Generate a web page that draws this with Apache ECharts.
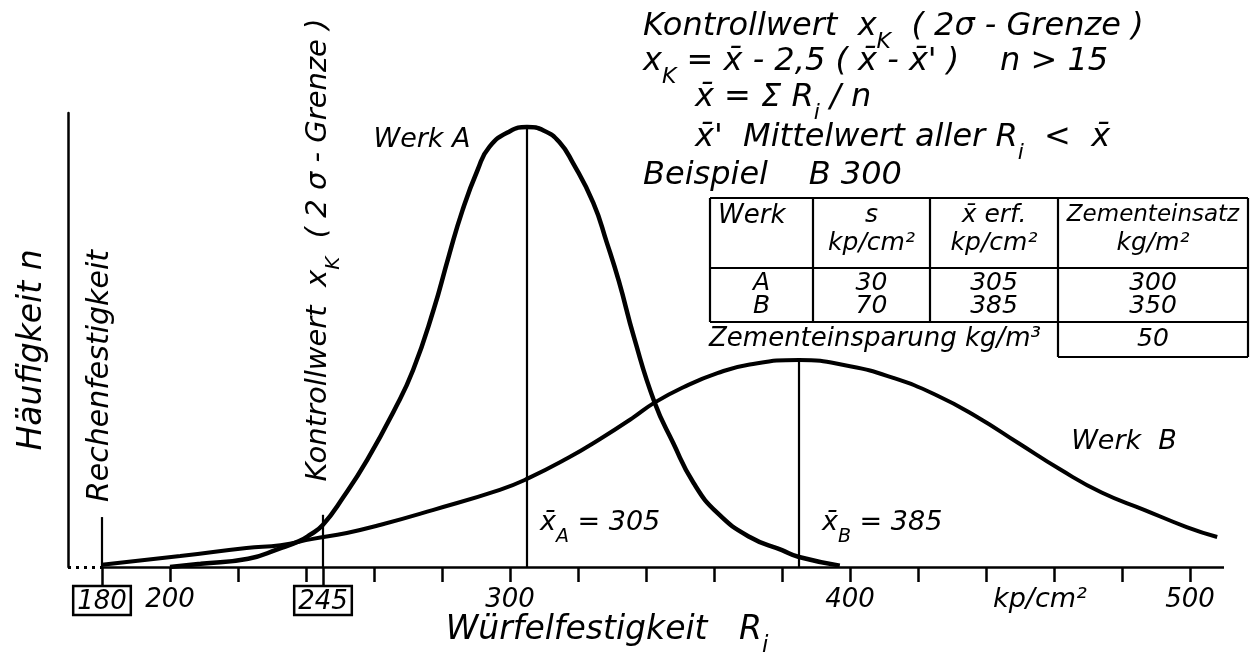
<!DOCTYPE html>
<html><head><meta charset="utf-8">
<script src="https://cdn.jsdelivr.net/npm/echarts@6/dist/echarts.min.js"></script>
<style>html,body{margin:0;padding:0;background:#fff}#c{width:1257px;height:657px}</style>
</head><body><div id="c"></div>
<script>
// ---- data ----
const werkA_R = [200, 209, 223, 232, 238, 241, 245, 251, 258, 266, 271.5, 277.5, 282, 286, 290.5, 294, 300, 305, 310, 314.5, 318.5, 324.5, 328.5, 332, 336.5, 342.5, 348, 354, 361, 370.5, 380, 385, 397];
const werkA_n = [0, 0.7, 1.8, 4.0, 5.7, 7.0, 9.3, 15.4, 23.6, 34.6, 43.4, 56.6, 68.5, 78.5, 87.5, 92.6, 96.0, 96.9, 96.1, 93.6, 89.0, 80.2, 71.4, 63.0, 50.5, 36.3, 27.3, 18.5, 11.9, 6.6, 3.7, 2.2, 0.3];
const werkB_R = [180, 203, 222.5, 232.5, 242, 252, 262, 277.5, 297, 305, 317, 326.5, 336, 342.5, 351, 361, 370.5, 385, 400, 412.5, 425, 437.5, 449.5, 462, 474, 486.5, 499, 508];
const werkB_n = [0.5, 2.4, 4.2, 4.8, 6.2, 7.5, 9.3, 12.6, 17.0, 19.4, 24.0, 28.2, 32.8, 36.2, 39.6, 42.7, 44.6, 45.6, 44.2, 41.7, 38.0, 33.0, 27.3, 21.4, 16.4, 12.6, 8.8, 6.6];
const meanA = 305, meanA_n = 96.9;
const meanB = 385, meanB_n = 45.6;
const rechenfestigkeit = 180, rechen_n = 11;
const kontrollwert = 245, kontroll_n = 11.5;
const xMin = 170, xMax = 510;
const minorTicks = [200, 220, 240, 260, 280, 300, 320, 340, 360, 380, 400, 420, 440, 460, 480, 500];
const tickLabels = [200, 300, 400, 500];
const boxedLabels = [180, 245];
const tableHeader = ['Werk', 's\nkp/cm²', 'x̄ erf.\nkp/cm²', 'Zementeinsatz\nkg/m²'];
const tableWerk = ['A', 'B'];
const tableS = [30, 70];
const tableXerf = [305, 385];
const tableZement = [300, 350];
const zementEinsparung = 50;

// ---- chart ----
const FONT = 'DejaVu Sans';
const chart = echarts.init(document.getElementById('c'), null, {renderer: 'canvas'});
const zipPts = (a, b) => a.map((v, i) => [v, b[i]]);

function txt(x, y, text, size, o) {
  o = o || {};
  const rich = {
    t: {fontSize: size, fontFamily: FONT, fontStyle: 'italic', verticalAlign: 'top', lineHeight: size * 1.15},
    s: {fontSize: Math.round(size * 0.7), fontFamily: FONT, fontStyle: 'italic', verticalAlign: 'bottom', lineHeight: Math.round(size * 0.8), padding: [0, 0, -6, 0]}
  };
  return {
    type: 'text', x: x, y: y, rotation: o.rot || 0, z: 10,
    style: {
      text: text, fill: '#000', fontFamily: FONT, fontStyle: 'italic', fontSize: size,
      align: o.align || 'left', verticalAlign: o.valign || 'middle', rich: rich,
      lineHeight: o.lh || size * 1.15
    }
  };
}

// table layout
const cx = [710, 813, 930, 1058, 1248];
const ry = [198, 268, 322, 357];
const tbl = [];
function ln(x1, y1, x2, y2, w) { tbl.push({type: 'line', z: 10, shape: {x1, y1, x2, y2}, style: {stroke: '#000', lineWidth: w || 2.2}}); }
ln(cx[0], ry[0], cx[4], ry[0]); ln(cx[0], ry[1], cx[4], ry[1]); ln(cx[0], ry[2], cx[4], ry[2]);
for (let i = 0; i < 5; i++) ln(cx[i], ry[0], cx[i], ry[2]);
ln(cx[3], ry[2], cx[3], ry[3]); ln(cx[4], ry[2], cx[4], ry[3]); ln(cx[3], ry[3], cx[4], ry[3]);
const TS = 25;
tbl.push(txt(718, 216, tableHeader[0], 26, {align: 'left'}));
for (let c = 1; c < 4; c++) {
  const mid = (cx[c] + cx[c + 1]) / 2;
  const parts = tableHeader[c].split('\n');
  const fs = c === 3 ? 23 : TS;
  tbl.push(txt(mid, 215, parts[0], fs, {align: 'center'}));
  tbl.push(txt(mid, 243, parts[1], TS, {align: 'center'}));
}
const colVals = [tableWerk, tableS, tableXerf, tableZement];
for (let c = 0; c < 4; c++) {
  const mid = (cx[c] + cx[c + 1]) / 2;
  tbl.push(txt(mid, 283, String(colVals[c][0]), TS, {align: 'center'}));
  tbl.push(txt(mid, 306, String(colVals[c][1]), TS, {align: 'center'}));
}
tbl.push(txt(709, 339, 'Zementeinsparung kg/m³', 26, {align: 'left'}));
tbl.push(txt((cx[3] + cx[4]) / 2, 339, String(zementEinsparung), TS, {align: 'center'}));

const TOP = 32;
const annotations = [
  txt(643, 29, '{t|Kontrollwert  x}{s|K}{t|  ( 2σ - Grenze )}', TOP),
  txt(643, 64, '{t|x}{s|K}{t| = x̄ - 2,5 ( x̄ - x̄\' )    n > 15}', TOP),
  txt(695, 100, '{t|x̄ = Σ R}{s|i}{t| / n}', TOP),
  txt(695, 140, '{t|x̄\'  Mittelwert aller R}{s|i}{t|  <  x̄}', TOP),
  txt(643, 176, 'Beispiel    B 300', TOP),
  txt(32, 350, 'Häufigkeit n', 33, {rot: Math.PI / 2, align: 'center'}),
  txt(100, 376, 'Rechenfestigkeit', 30, {rot: Math.PI / 2, align: 'center'}),
  txt(321, 250, '{t|Kontrollwert  x}{s|K}{t|  ( 2 σ - Grenze )}', 29, {rot: Math.PI / 2, align: 'center'}),
  txt(422, 140, 'Werk A', 27, {align: 'center'}),
  txt(1124, 442, 'Werk  B', 27, {align: 'center'}),
  txt(540, 525, '{t|x̄}{s|A}{t| = 305}', 27),
  txt(822, 525, '{t|x̄}{s|B}{t| = 385}', 27),
  txt(1040, 600, 'kp/cm²', 27, {align: 'center'}),
  txt(607, 633, '{t|Würfelfestigkeit   R}{s|i}', 33, {align: 'center'})
];

const blackLine = {color: '#000', width: 2.2, type: 'solid'};
const option = {
  backgroundColor: '#fff',
  animation: false,
  grid: {left: 68, right: 33, top: 113, bottom: 90, outerBoundsMode: 'none', containLabel: false},
  xAxis: [{
    type: 'value', min: xMin, max: xMax, position: 'bottom',
    axisLine: {show: false, onZero: false},
    axisTick: {show: true, customValues: minorTicks, length: 15, lineStyle: {color: '#000', width: 2.5}},
    axisLabel: {customValues: tickLabels, color: '#000', fontFamily: FONT, fontStyle: 'italic', fontSize: 26, margin: 20},
    splitLine: {show: false}
  }, {
    type: 'value', min: xMin, max: xMax, position: 'bottom',
    axisLine: {show: false, onZero: false},
    axisTick: {show: true, customValues: boxedLabels, length: 20, lineStyle: {color: '#000', width: 2.5}},
    axisLabel: {
      customValues: boxedLabels, margin: 19, formatter: v => '{b|' + v + '}',
      rich: {b: {color: '#000', fontFamily: FONT, fontStyle: 'italic', fontSize: 26, borderColor: '#000', borderWidth: 2.5, padding: [3, 4, 0, 4]}}
    },
    splitLine: {show: false}
  }],
  yAxis: {
    type: 'value', min: 0, max: 100,
    axisLine: {show: true, lineStyle: {color: '#000', width: 2.5}},
    axisTick: {show: false}, axisLabel: {show: false}, splitLine: {show: false}
  },
  series: [{
    name: 'Werk A', type: 'line', data: zipPts(werkA_R, werkA_n), smooth: 0.5, showSymbol: false, clip: false,
    lineStyle: {color: '#000', width: 4.5}, z: 3,
    markLine: {
      silent: true, symbol: 'none', label: {show: false}, lineStyle: blackLine,
      data: [
        [{coord: [meanA, 0]}, {coord: [meanA, meanA_n]}],
        [{coord: [rechenfestigkeit, 0]}, {coord: [rechenfestigkeit, rechen_n]}],
        [{coord: [kontrollwert, 0]}, {coord: [kontrollwert, kontroll_n]}]
      ]
    }
  }, {
    name: 'Werk B', type: 'line', data: zipPts(werkB_R, werkB_n), smooth: 0.5, showSymbol: false, clip: false,
    lineStyle: {color: '#000', width: 4}, z: 3,
    markLine: {
      silent: true, symbol: 'none', label: {show: false}, lineStyle: {color: '#000', width: 2.5, type: 'solid'},
      data: [
        [{coord: [meanB, 0], lineStyle: blackLine}, {coord: [meanB, meanB_n]}],
        [{coord: [rechenfestigkeit, 0]}, {coord: [xMax, 0]}],
        [{coord: [xMin, 0], lineStyle: {color: '#000', width: 3, type: [3, 5]}}, {coord: [rechenfestigkeit, 0]}]
      ]
    }
  }],
  graphic: annotations.concat(tbl)
};
chart.setOption(option);
</script></body></html>
